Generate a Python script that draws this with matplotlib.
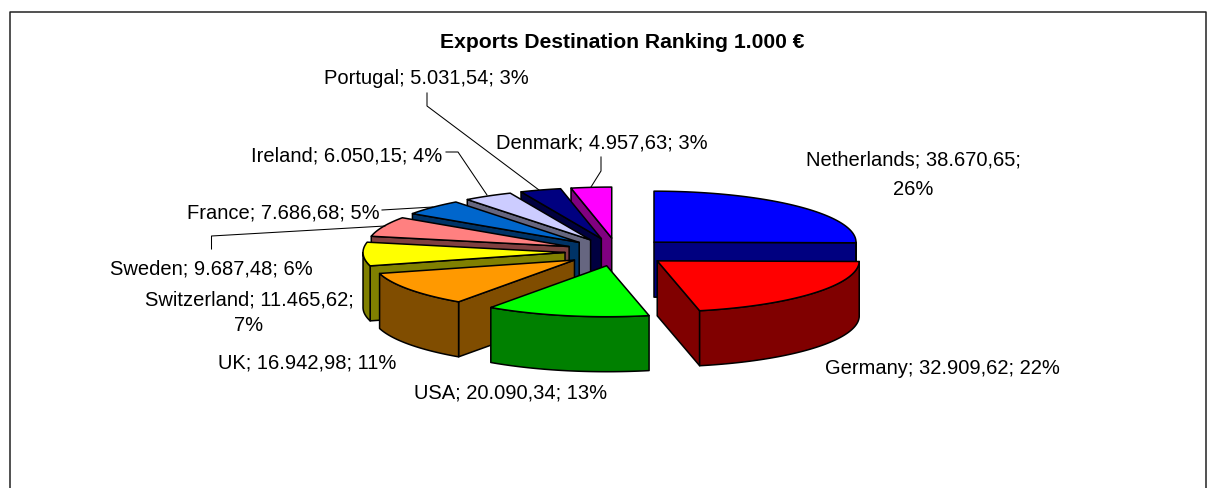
#!/usr/bin/env python3
import numpy as np
import matplotlib
matplotlib.use("Agg")
import matplotlib.pyplot as plt
from matplotlib.patches import Polygon

countries = ["Netherlands", "Germany", "USA", "UK", "Switzerland",
             "Sweden", "France", "Ireland", "Portugal", "Denmark"]
values = [38670.65, 32909.62, 20090.34, 16942.98, 11465.62,
          9687.48, 7686.68, 6050.15, 5031.54, 4957.63]
shares = [26, 22, 13, 11, 7, 6, 5, 4, 3, 3]
title = "Exports Destination Ranking 1.000 €"

top_colors = ["#0000FF", "#FF0000", "#00FF00", "#FF9900", "#FFFF00",
              "#FF8080", "#0066CC", "#CCCCFF", "#000080", "#FF00FF"]
wall_colors = ["#000080", "#800000", "#008000", "#804D00", "#808000",
               "#804040", "#003366", "#666680", "#000040", "#800080"]

# pie geometry in pixels
CX, CY = 617, 253
RX, RY = 202, 51
EXPLODE_X, EXPLODE_Y = 52, 14
DEPTH = 55
FONT = "Liberation Sans"
FS = 14.5

# label anchors: x, y, ha, and line spacing if the share wraps onto a second line
label_layout = {
    "Netherlands": (913, 175, "center", 1.67),
    "Germany": (825, 368, "left", None),
    "USA": (414, 393, "left", None),
    "UK": (218, 363, "left", None),
    "Switzerland": (249, 313, "center", 1.43),
    "Sweden": (110, 269, "left", None),
    "France": (187, 213, "left", None),
    "Ireland": (251, 156, "left", None),
    "Portugal": (324, 79, "left", None),
    "Denmark": (496, 143, "left", None),
}
leaders = [
    ([427, 427, 539], [94, 107, 191]),
    ([601, 601, 591], [158, 172, 188]),
    ([446, 458, 487], [153, 153, 196]),
    ([382, 433], [211, 208]),
    ([211.5, 211.5, 385], [250, 237, 227]),
]


def euro(v):
    return f"{v:,.2f}".replace(",", "#").replace(".", ",").replace("#", ".")


def rim(x0, y0, a, b, n=80):
    t = np.radians(np.linspace(a, b, n))
    return x0 + RX * np.sin(t), y0 - RY * np.cos(t)


def draw_slice(ax, start, end, top, wall, z):
    mid = np.radians((start + end) / 2)
    x0 = CX + EXPLODE_X * np.sin(mid)
    y0 = CY - EXPLODE_Y * np.cos(mid)
    style = dict(edgecolor="black", linewidth=1.1, joinstyle="round", zorder=z)

    # radial faces that look towards the viewer
    for ang, visible in ((start, np.sin(np.radians(start)) < 0),
                         (end, np.sin(np.radians(end)) > 0)):
        if visible:
            ex, ey = rim(x0, y0, ang, ang, 1)
            ax.add_patch(Polygon([(x0, y0), (ex[0], ey[0]), (ex[0], ey[0] + DEPTH), (x0, y0 + DEPTH)],
                                 facecolor=wall, **style))

    # front part of the outer rim
    a, b = max(start, 90), min(end, 270)
    if a < b:
        ax_, ay_ = rim(x0, y0, a, b)
        pts = np.r_[np.c_[ax_, ay_], np.c_[ax_[::-1], ay_[::-1] + DEPTH]]
        ax.add_patch(Polygon(pts, facecolor=wall, **style))

    tx, ty = rim(x0, y0, start, end)
    pts = np.r_[[[x0, y0]], np.c_[tx, ty]]
    ax.add_patch(Polygon(pts, facecolor=top, **style))


fig = plt.figure(figsize=(12.14, 4.89), dpi=100)
ax = fig.add_axes([0, 0, 1, 1])
ax.set_xlim(0, 1214)
ax.set_ylim(489, 0)
ax.axis("off")

# chart frame, runs off the bottom of the image
ax.plot([9.5, 9.5, 1205.5, 1205.5], [495, 13, 13, 495], color="#222222", lw=1.1, zorder=1)

edges = np.r_[0, np.cumsum(values)] / sum(values) * 360
# painter's order: furthest slice first
mids = (edges[:-1] + edges[1:]) / 2
order = np.argsort(-np.cos(np.radians(mids)))
for z, i in enumerate(order):
    draw_slice(ax, edges[i], edges[i + 1], top_colors[i], wall_colors[i], 5 + z)

for xs, ys in leaders:
    ax.plot(xs, ys, color="black", lw=0.75, zorder=30)

for name, val, pct in zip(countries, values, shares):
    x, y, ha, spacing = label_layout[name]
    sep = "\n" if spacing else " "
    ax.text(x, y, f"{name}; {euro(val)};{sep}{pct}%", ha=ha, va="center", multialignment="center",
            fontsize=FS, family=FONT, color="black", linespacing=spacing or 1.15, zorder=31)

ax.text(622.5, 42, title, ha="center", va="center", fontsize=15.2, family=FONT,
        fontweight="bold", color="black", zorder=31)

fig.savefig("out.png", dpi=100, facecolor="white")
